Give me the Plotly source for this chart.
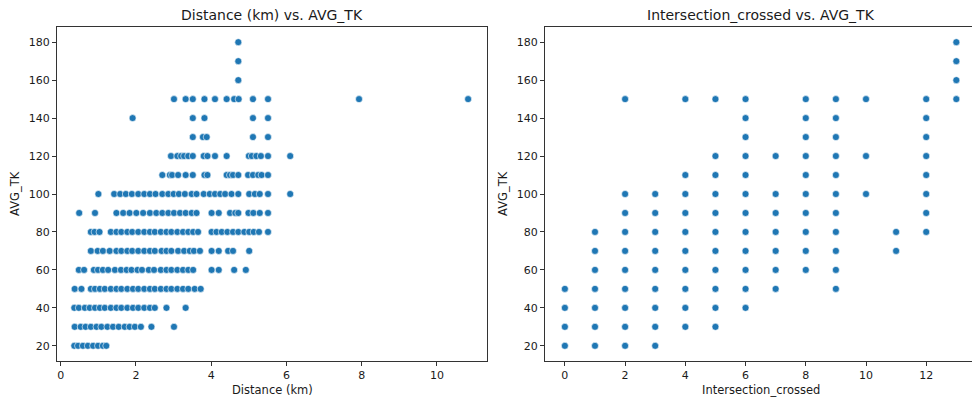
import plotly.graph_objects as go

# ---------------- Data ----------------
# Left panel: Distance (km) values observed at each AVG_TK level
dist_180 = [4.72]
dist_170 = [4.72]
dist_160 = [4.72]
dist_150 = [3.01, 3.32, 3.51, 3.82, 4.10, 4.41, 4.61, 4.73, 5.11, 5.51, 7.93, 10.83]
dist_140 = [1.91, 3.51, 3.82, 5.11, 5.51]
dist_130 = [3.51, 3.78, 3.88, 5.11, 5.51]
dist_120 = [2.93, 3.10, 3.20, 3.28, 3.39, 3.51, 3.80, 3.90, 4.10, 4.41, 5.00, 5.08,
            5.20, 5.32, 5.51, 6.10]
dist_110 = [2.70, 2.90, 2.96, 3.12, 3.32, 3.51, 3.82, 3.90, 4.41, 4.50, 4.58, 4.72,
            4.98, 5.11, 5.25, 5.34, 5.51]
dist_100 = [1.00, 1.42, 1.58, 1.73, 1.89, 2.06, 2.22, 2.37, 2.52, 2.70, 2.86, 3.00,
            3.14, 3.30, 3.48, 3.61, 3.80, 3.96, 4.10, 4.24, 4.37, 4.54, 4.72, 5.01,
            5.16, 5.29, 5.51, 6.10]
dist_90 = [0.49, 0.91, 1.48, 1.66, 1.83, 2.01, 2.19, 2.37, 2.54, 2.70, 2.86, 3.01,
           3.17, 3.32, 3.48, 3.61, 4.01, 4.20, 4.50, 4.64, 4.72, 4.99, 5.12, 5.29, 5.51]
dist_80 = [0.80, 0.90, 1.03, 1.33, 1.48, 1.61, 1.77, 1.90, 2.06, 2.22, 2.37, 2.50,
           2.66, 2.81, 2.94, 3.10, 3.25, 3.39, 3.52, 3.65, 4.01, 4.14, 4.28, 4.43,
           4.58, 4.72, 4.88, 5.01, 5.13, 5.27, 5.51]
dist_70 = [0.80, 0.98, 1.12, 1.30, 1.48, 1.61, 1.77, 1.90, 2.06, 2.22, 2.37, 2.50,
           2.68, 2.81, 2.94, 3.12, 3.28, 3.43, 3.54, 3.70, 4.01, 4.20, 4.45, 4.58, 5.01]
dist_60 = [0.48, 0.62, 0.88, 0.99, 1.12, 1.26, 1.44, 1.60, 1.75, 1.88, 2.04, 2.16,
           2.34, 2.48, 2.66, 2.81, 2.94, 3.10, 3.25, 3.39, 3.52, 4.01, 4.20, 4.61, 4.92]
dist_50 = [0.37, 0.55, 0.80, 0.91, 1.04, 1.17, 1.33, 1.48, 1.61, 1.77, 1.92, 2.06,
           2.22, 2.37, 2.50, 2.66, 2.81, 2.94, 3.10, 3.25, 3.39, 3.56, 3.72]
dist_40 = [0.36, 0.48, 0.64, 0.77, 0.91, 1.04, 1.17, 1.33, 1.48, 1.61, 1.77, 1.92,
           2.06, 2.22, 2.37, 2.50, 2.81, 3.32]
dist_30 = [0.37, 0.53, 0.66, 0.80, 0.95, 1.08, 1.24, 1.39, 1.54, 1.70, 1.83, 1.97,
           2.13, 2.41, 3.01]
dist_20 = [0.36, 0.46, 0.59, 0.72, 0.86, 0.99, 1.12, 1.21]

dist_by_level = [
    (180, dist_180), (170, dist_170), (160, dist_160), (150, dist_150),
    (140, dist_140), (130, dist_130), (120, dist_120), (110, dist_110),
    (100, dist_100), (90, dist_90), (80, dist_80), (70, dist_70),
    (60, dist_60), (50, dist_50), (40, dist_40), (30, dist_30), (20, dist_20),
]

# Right panel: AVG_TK values observed at each Intersection_crossed count
tk_i0 = [20, 30, 40, 50]
tk_i1 = [20, 30, 40, 50, 60, 70, 80]
tk_i2 = [20, 30, 40, 50, 60, 70, 80, 90, 100, 150]
tk_i3 = [20, 30, 40, 50, 60, 70, 80, 90, 100]
tk_i4 = [30, 40, 50, 60, 70, 80, 90, 100, 110, 150]
tk_i5 = [30, 40, 50, 60, 70, 80, 90, 100, 110, 120, 150]
tk_i6 = [40, 50, 60, 70, 80, 90, 100, 110, 120, 130, 140, 150]
tk_i7 = [50, 60, 70, 80, 90, 100, 120]
tk_i8 = [60, 70, 80, 90, 100, 110, 120, 130, 140, 150]
tk_i9 = [50, 60, 70, 80, 90, 100, 110, 120, 130, 140, 150]
tk_i10 = [100, 120, 150]
tk_i11 = [70, 80]
tk_i12 = [80, 90, 100, 110, 120, 130, 140, 150]
tk_i13 = [150, 160, 170, 180]

tk_by_inter = [tk_i0, tk_i1, tk_i2, tk_i3, tk_i4, tk_i5, tk_i6, tk_i7,
               tk_i8, tk_i9, tk_i10, tk_i11, tk_i12, tk_i13]

y_ticks = [20, 40, 60, 80, 100, 120, 140, 160, 180]
x1_ticks = [0, 2, 4, 6, 8, 10]
x2_ticks = [0, 2, 4, 6, 8, 10, 12]

# ---------------- Build arrays ----------------
x1, y1 = [], []
for lvl, ds in dist_by_level:
    for d in ds:
        x1.append(d)
        y1.append(lvl)

x2, y2 = [], []
for i, vals in enumerate(tk_by_inter):
    for v in vals:
        x2.append(i)
        y2.append(v)

# ---------------- Figure ----------------
W, H = 972, 401
ML, MR, MT, MB = 57, 0, 27, 40
PW, PH = W - ML - MR, H - MT - MB


def px(xp):
    return (xp - ML) / PW


def py(yp):
    return (H - MB - yp) / PH


BLUE = "#1f77b4"
FONT = "DejaVu Sans"
marker = dict(color=BLUE, size=7, line=dict(color="white", width=0.6))

fig = go.Figure()
fig.add_trace(go.Scatter(x=x1, y=y1, mode="markers", marker=marker,
                         xaxis="x", yaxis="y", showlegend=False))
fig.add_trace(go.Scatter(x=x2, y=y2, mode="markers", marker=marker,
                         xaxis="x2", yaxis="y2", showlegend=False))

axis_common = dict(showgrid=False, zeroline=False, showline=True,
                   linecolor="#333333", linewidth=1, ticks="outside",
                   ticklen=4, tickwidth=1, tickcolor="#333333",
                   tickfont=dict(family=FONT, size=11, color="#1a1a1a"))

fig.update_layout(
    width=W, height=H,
    margin=dict(l=ML, r=MR, t=MT, b=MB),
    paper_bgcolor="white", plot_bgcolor="white",
    font=dict(family=FONT, color="#1a1a1a"),
    xaxis=dict(domain=[0, px(487.3)], range=[-0.10, 11.34],
               tickvals=x1_ticks, mirror=True, anchor="y", **axis_common),
    yaxis=dict(domain=[0, 1], range=[12, 188], tickvals=y_ticks,
               mirror=True, anchor="x", **axis_common),
    xaxis2=dict(domain=[px(545), 1], range=[-0.66, 13.52],
                tickvals=x2_ticks, mirror=True, anchor="y2", **axis_common),
    yaxis2=dict(domain=[0, 1], range=[12, 188], tickvals=y_ticks,
                mirror=False, anchor="x2", **axis_common),
)

ann_font_t = dict(family=FONT, size=14, color="#1a1a1a")
ann_font_l = dict(family=FONT, size=11.5, color="#1a1a1a")
fig.update_layout(annotations=[
    dict(text="Distance (km) vs. AVG_TK", x=px(272), y=py(15), xref="paper", yref="paper",
         xanchor="center", yanchor="middle", showarrow=False, font=ann_font_t),
    dict(text="Intersection_crossed vs. AVG_TK", x=px(761), y=py(15), xref="paper", yref="paper",
         xanchor="center", yanchor="middle", showarrow=False, font=ann_font_t),
    dict(text="Distance (km)", x=px(272), y=py(390), xref="paper", yref="paper",
         xanchor="center", yanchor="middle", showarrow=False, font=ann_font_l),
    dict(text="Intersection_crossed", x=px(760.5), y=py(390), xref="paper", yref="paper",
         xanchor="center", yanchor="middle", showarrow=False, font=ann_font_l),
    dict(text="AVG_TK", x=px(15), y=py(194), xref="paper", yref="paper",
         xanchor="center", yanchor="middle", textangle=-90, showarrow=False, font=ann_font_l),
    dict(text="AVG_TK", x=px(503), y=py(194), xref="paper", yref="paper",
         xanchor="center", yanchor="middle", textangle=-90, showarrow=False, font=ann_font_l),
])

fig.write_html("out.html")
